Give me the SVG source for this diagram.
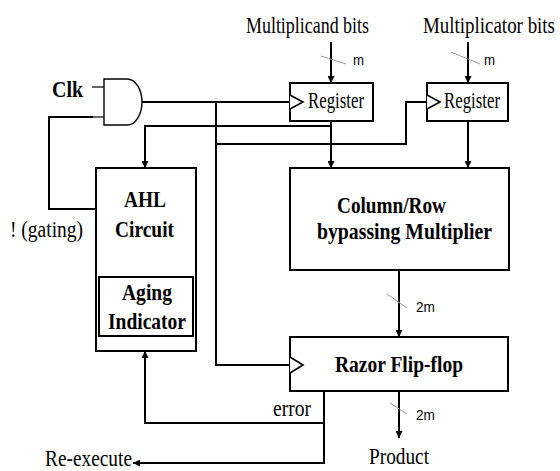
<svg xmlns="http://www.w3.org/2000/svg" width="560" height="471" viewBox="0 0 560 471">
  <style>
    .box { fill: #fff; stroke: #000; stroke-width: 2; }
    .wire { fill: none; stroke: #000; stroke-width: 2; }
    .thin { fill: none; stroke: #000; stroke-width: 1.2; }
    .slash { stroke: #9a9a9a; stroke-width: 1; }
    .clk { fill: #fff; stroke: #000; stroke-width: 1.6; }
    .serif { font-family: "Liberation Serif", "Times New Roman", serif; font-size: 23px; fill: #000; }
    .bold { font-weight: bold; }
    .sans { font-family: "Liberation Sans", Arial, sans-serif; font-size: 15px; fill: #000; }
  </style>
  <defs>
    <marker id="arrow" viewBox="0 0 8 8" refX="8" refY="4" markerWidth="7" markerHeight="7" markerUnits="userSpaceOnUse" orient="auto">
      <path d="M0,0 L8,4 L0,8 Z" fill="#000"/>
    </marker>
  </defs>

  <!-- connectors -->
  <g id="connectors">
    <!-- gated clock distribution -->
    <path class="wire" d="M142,102 H290"/>
    <path class="wire" d="M216,102 V365 H290"/>
    <path class="wire" d="M216,144 H406 V102 H427"/>
    <!-- operand inputs -->
    <path class="wire" d="M331,42 V83" marker-end="url(#arrow)"/>
    <path class="wire" d="M468,42 V83" marker-end="url(#arrow)"/>
    <line class="slash" x1="321" y1="56" x2="346" y2="64"/>
    <line class="slash" x1="451" y1="52" x2="480" y2="64"/>
    <!-- register outputs -->
    <path class="wire" d="M331,121 V168" marker-end="url(#arrow)"/>
    <path class="wire" d="M468,121 V168" marker-end="url(#arrow)"/>
    <path class="wire" d="M331,126 H145 V168" marker-end="url(#arrow)"/>
    <!-- multiplier to razor flip-flop -->
    <path class="wire" d="M399,270 V337" marker-end="url(#arrow)"/>
    <line class="slash" x1="387" y1="294" x2="407" y2="308"/>
    <!-- product output -->
    <path class="wire" d="M399,391 V438" marker-end="url(#arrow)"/>
    <line class="slash" x1="390" y1="403" x2="407" y2="414"/>
    <!-- error feedback -->
    <path class="wire" d="M324,391 V463 H133" marker-end="url(#arrow)"/>
    <path class="wire" d="M324,423 H145 V351" marker-end="url(#arrow)"/>
    <!-- clock gating loop -->
    <path class="wire" d="M96,209 H49 V117 H93"/>
    <path class="thin" d="M93,117 H104"/>
    <path class="thin" d="M92,87 H104"/>
  </g>

  <!-- AND gate -->
  <g id="and-gate">
    <path d="M104,79 H127 A15,23 0 0 1 127,125 H104 Z" fill="#fff" stroke="#000" stroke-width="1.4"/>
    <text class="serif bold" x="52" y="97" textLength="31" lengthAdjust="spacingAndGlyphs">Clk</text>
  </g>

  <g id="gating-label">
    <text class="serif" x="10" y="237" textLength="73" lengthAdjust="spacingAndGlyphs">! (gating)</text>
  </g>

  <!-- inputs -->
  <g id="multiplicand-input">
    <text class="serif" x="246" y="33" textLength="123" lengthAdjust="spacingAndGlyphs">Multiplicand bits</text>
    <text class="sans" x="353" y="65" textLength="11" lengthAdjust="spacingAndGlyphs">m</text>
  </g>
  <g id="multiplicator-input">
    <text class="serif" x="423" y="33" textLength="132" lengthAdjust="spacingAndGlyphs">Multiplicator bits</text>
    <text class="sans" x="484" y="65" textLength="11" lengthAdjust="spacingAndGlyphs">m</text>
  </g>

  <!-- registers -->
  <g id="register-1">
    <rect class="box" x="290" y="83" width="83" height="38"/>
    <path class="clk" d="M290,95 L303,102 L290,109"/>
    <text class="serif" x="308" y="108" font-size="21" textLength="56" lengthAdjust="spacingAndGlyphs">Register</text>
  </g>
  <g id="register-2">
    <rect class="box" x="427" y="83" width="81" height="38"/>
    <path class="clk" d="M427,95 L440,102 L427,109"/>
    <text class="serif" x="444" y="108" font-size="21" textLength="56" lengthAdjust="spacingAndGlyphs">Register</text>
  </g>

  <!-- AHL circuit with aging indicator -->
  <g id="ahl-circuit">
    <rect class="box" x="96" y="168" width="100" height="183"/>
    <text class="serif bold" x="124" y="207" textLength="42" lengthAdjust="spacingAndGlyphs">AHL</text>
    <text class="serif bold" x="115" y="237" textLength="59" lengthAdjust="spacingAndGlyphs">Circuit</text>
  </g>
  <g id="aging-indicator">
    <rect class="box" x="99" y="277" width="94" height="59"/>
    <text class="serif bold" x="122" y="300" textLength="50" lengthAdjust="spacingAndGlyphs">Aging</text>
    <text class="serif bold" x="108" y="329" textLength="78" lengthAdjust="spacingAndGlyphs">Indicator</text>
  </g>

  <!-- multiplier -->
  <g id="multiplier">
    <rect class="box" x="290" y="168" width="219" height="102"/>
    <text class="serif bold" x="337" y="213" textLength="109" lengthAdjust="spacingAndGlyphs">Column/Row</text>
    <text class="serif bold" x="317" y="239" textLength="175" lengthAdjust="spacingAndGlyphs">bypassing Multiplier</text>
    <text class="sans" x="416" y="312" textLength="19" lengthAdjust="spacingAndGlyphs">2m</text>
  </g>

  <!-- razor flip-flop -->
  <g id="razor-flip-flop">
    <rect class="box" x="290" y="337" width="218" height="54"/>
    <path class="clk" d="M290,357 L303,365 L290,373"/>
    <text class="serif bold" x="335" y="372" textLength="128" lengthAdjust="spacingAndGlyphs">Razor Flip-flop</text>
    <text class="sans" x="416" y="420" textLength="19" lengthAdjust="spacingAndGlyphs">2m</text>
  </g>

  <g id="outputs">
    <text class="serif" x="273" y="416" textLength="38" lengthAdjust="spacingAndGlyphs">error</text>
    <text class="serif" x="369" y="464" textLength="60" lengthAdjust="spacingAndGlyphs">Product</text>
    <text class="serif" x="45" y="466" textLength="87" lengthAdjust="spacingAndGlyphs">Re-execute</text>
  </g>
</svg>
